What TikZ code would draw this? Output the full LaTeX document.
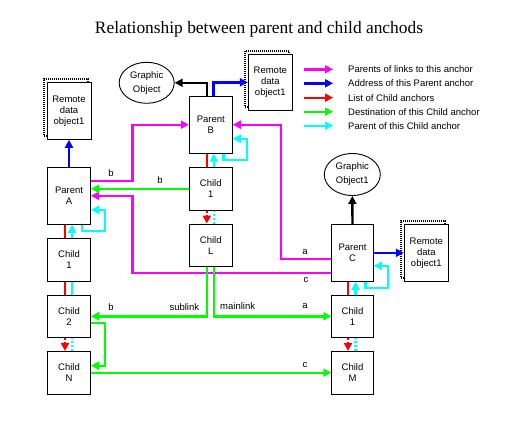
\documentclass[tikz,border=0pt]{standalone}
\usepackage{fontspec}
\setmainfont{Liberation Sans}
\newfontfamily\titlefont{Liberation Serif}
\usetikzlibrary{arrows.meta,shapes.geometric,shadows}

\definecolor{magline}{RGB}{255,0,255}
\definecolor{blueline}{RGB}{0,0,255}
\definecolor{redline}{RGB}{255,0,0}
\definecolor{greenline}{RGB}{0,255,0}
\definecolor{cyanline}{RGB}{0,255,255}

\tikzset{
  anchorbox/.style={draw, line width=0.9pt, fill=white, minimum width=43pt, align=center, inner sep=0pt, font=\fontsize{9.5}{11}\selectfont},
  parentbox/.style={anchorbox, minimum height=57pt},
  childbox/.style={anchorbox, minimum height=42.5pt},
  remotebox/.style={anchorbox, minimum width=44pt, minimum height=57pt,
    general shadow={shadow xshift=-3pt, shadow yshift=3pt, fill=white, draw=black, line width=2pt, dash pattern=on 1pt off 1pt}},
  graphic/.style={ellipse, draw, line width=0.9pt, minimum width=55pt, minimum height=41pt, inner sep=0pt, align=center, font=\fontsize{9.5}{11}\selectfont},
  link/.style={line width=2.4pt},
  tip/.style={-{Triangle[length=8pt,width=8pt]}},
  dots/.style={dash pattern=on 2pt off 2pt},
  lbl/.style={inner sep=0pt, text=black, font=\fontsize{9.5}{11}\selectfont},
}

\begin{document}
\begin{tikzpicture}[x=1pt, y=-1pt]
	\useasboundingbox (0,0) rectangle (527,428);
	\node[anchor=base, font=\titlefont\fontsize{17.4}{20}\selectfont] (title) at (259,33.3) {Relationship between parent and child anchods};

	% left column
	\node[remotebox] (remA) at (69,110.8) {Remote\\data\\object1};
	\node[parentbox] (parentA) at (69,195.8) {Parent\\A};
	\node[childbox] (child1A) at (69,259.8) {Child\\1};
	\node[childbox] (child2A) at (69,316.3) {Child\\2};
	\node[childbox] (childN) at (69,372.7) {Child\\N};

	% middle column
	\node[graphic] (graphB) at (146.7,82.8) {Graphic\\[3pt]Object};
	\node[parentbox] (parentB) at (210.8,124.7) {Parent\\B};
	\node[remotebox, minimum height=56pt] (remB) at (270.3,82.3) {Remote\\data\\object1};
	\node[childbox] (child1B) at (210.8,188.8) {Child\\1};
	\node[childbox] (childL) at (210.8,245.3) {Child\\L};

	% right column
	\node[graphic, minimum width=56pt, minimum height=42pt] (graphC) at (352.3,174.5) {Graphic\\[3pt]Object1};
	\node[parentbox, minimum width=41.6pt] (parentC) at (352.5,252.8) {Parent\\C};
	\node[remotebox] (remC) at (426.3,252.8) {Remote\\data\\object1};
	\node[childbox, minimum width=41.6pt] (child1C) at (352.5,316.3) {Child\\1};
	\node[childbox, minimum width=41.6pt] (childM) at (352.5,372.7) {Child\\M};

	\coordinate (mx) at (132.3,0);
	\coordinate (mxb) at (280.7,0);

	% parents of links
	\draw[link, magline, tip] ([yshift=15pt]parentA.east) -| (mx |- parentB.west) -- (parentB.west);
	\draw[link, magline, tip] ([yshift=-20pt]parentC.west) -| (mx |- parentA.east) -- (parentA.east);
	\draw[link, magline, tip] ([yshift=-6pt]parentC.west) -| (mxb |- parentB.east) -- (parentB.east);
	\node[lbl] (labAB) at (111,173.5) {b};
	\node[lbl] (labCB) at (305,252.3) {a};
	\node[lbl] (labCA) at (306,280.3) {c};

	% addresses and graphics
	\draw[link, blueline, tip] (parentA.north) -- (remA.south);
	\draw[link, blueline, tip] ([xshift=2.5pt]parentB.north) |- (remB.west);
	\draw[link, blueline, tip] (parentC.east) -- (remC.west);
	\draw[link, black, tip] ([xshift=-4pt]parentB.north) |- (graphB.east);
	\draw[link, black, tip] (parentC.north) -- (graphC.south);

	% child lists
	\draw[link, redline] ([xshift=-4pt]parentA.south) -- ([xshift=-4pt]child1A.north);
	\draw[link, redline] ([xshift=-4pt]child1A.south) -- ([xshift=-4pt]child2A.north);
	\draw[link, redline, dots, tip] ([xshift=-4pt]child2A.south) -- ([xshift=-4pt]childN.north);
	\draw[link, redline] ([xshift=-4pt]parentB.south) -- ([xshift=-4pt]child1B.north);
	\draw[link, redline, dots, tip] ([xshift=-4pt]child1B.south) -- ([xshift=-4pt]childL.north);
	\draw[link, redline] ([xshift=-4.5pt]parentC.south) -- ([xshift=-4.5pt]child1C.north);
	\draw[link, redline, dots, tip] ([xshift=-4.5pt]child1C.south) -- ([xshift=-4.5pt]childM.north);

	% parent of child
	\draw[link, cyanline, tip] ([xshift=3pt]child1A.north) -- ([xshift=3pt]parentA.south);
	\draw[link, cyanline] ([xshift=3pt]child2A.north) -- ([xshift=3pt]child1A.south);
	\draw[link, cyanline, dots] ([xshift=3pt]childN.north) -- ([xshift=3pt]child2A.south);
	\draw[link, cyanline, tip] ([xshift=3pt]child1B.north) -- ([xshift=3pt]parentB.south);
	\draw[link, cyanline, dots] ([xshift=3pt]childL.north) -- ([xshift=3pt]child1B.south);
	\draw[link, cyanline, tip] ([xshift=3pt]child1C.north) -- ([xshift=3pt]parentC.south);
	\draw[link, cyanline, dots] ([xshift=3pt]childM.north) -- ([xshift=3pt]child1C.south);
	\draw[link, cyanline, tip] ([xshift=13pt]parentA.south) -- ++(0,6.5) -| ([xshift=14pt,yshift=-14pt]parentA.east) -- ([yshift=-14pt]parentA.east);
	\draw[link, cyanline, tip] ([xshift=12.5pt]parentB.south) -- ++(0,6.5) -| ([xshift=14pt,yshift=-14pt]parentB.east) -- ([yshift=-14pt]parentB.east);
	\draw[link, cyanline, tip] ([xshift=13pt]parentC.south) -- ++(0,6.5) -| ([xshift=14pt,yshift=-13pt]parentC.east) -- ([yshift=-13pt]parentC.east);

	% destinations
	\draw[link, greenline, tip] (child1B.west) -- (child1B.west -| parentA.east);
	\draw[link, greenline, tip] ([xshift=-4pt]childL.south) |- (child2A.east);
	\draw[link, greenline, tip] ([xshift=3pt]childL.south) |- (child1C.west);
	\draw[link, greenline, tip] ([yshift=-6.5pt]child2A.east) -| ([xshift=14pt,yshift=7pt]childN.east) -- ([yshift=7pt]childN.east);
	\draw[link, greenline, tip] (childN.east) -- (childM.west);
	\node[lbl] (labB1) at (160,180.5) {b};
	\node[lbl] (labSub) at (111,307.3) {b};
	\node[lbl, anchor=east] (sublink) at (199.3,307) {sublink};
	\node[lbl, anchor=west] (mainlink) at (220,306) {mainlink};
	\node[lbl] (labMain) at (305,306) {a};
	\node[lbl] (labNM) at (305,365) {c};

	% legend
	\coordinate (k1) at (304,69.3);
	\coordinate (k2) at (304,83.3);
	\coordinate (k3) at (304,97.7);
	\coordinate (k4) at (304,111.7);
	\coordinate (k5) at (304,125.7);
	\draw[link, magline, tip] (k1) -- ++(29,0) node[lbl, anchor=west, xshift=14pt] (t1) {Parents of links to this anchor};
	\draw[link, blueline, tip] (k2) -- ++(29,0) node[lbl, anchor=west, xshift=14pt] (t2) {Address of this Parent anchor};
	\draw[link, redline, tip] (k3) -- ++(29,0) node[lbl, anchor=west, xshift=14pt] (t3) {List of Child anchors};
	\draw[link, greenline, tip] (k4) -- ++(29,0) node[lbl, anchor=west, xshift=14pt] (t4) {Destination of this Child anchor};
	\draw[link, cyanline, tip] (k5) -- ++(29,0) node[lbl, anchor=west, xshift=14pt] (t5) {Parent of this Child anchor};
\end{tikzpicture}
\end{document}
